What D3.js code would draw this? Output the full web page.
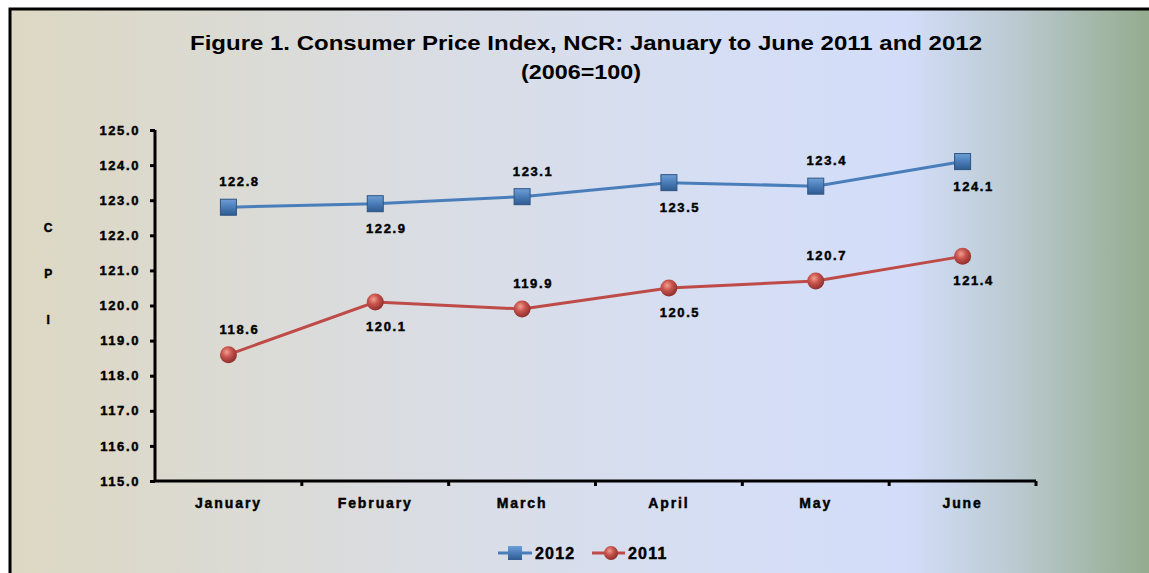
<!DOCTYPE html>
<html>
<head>
<meta charset="utf-8">
<script src="https://cdn.jsdelivr.net/npm/d3@7"></script>
<style>
  body { margin: 0; background: #fff; }
  svg { display: block; }
  .tick text, .lbl { font-family: "Liberation Sans", Arial, sans-serif; font-weight: bold; letter-spacing: 1.6px; stroke: #000; stroke-width: 0.45px; }
</style>
</head>
<body>
<svg id="chart" width="1149" height="573"></svg>
<script>
// data
var months = ["January", "February", "March", "April", "May", "June"];
var cpi2012 = [122.8, 122.9, 123.1, 123.5, 123.4, 124.1];
var cpi2011 = [118.6, 120.1, 119.9, 120.5, 120.7, 121.4];
var yTicks = [115, 116, 117, 118, 119, 120, 121, 122, 123, 124, 125];

var svg = d3.select('#chart');
var W = 1149, H = 573;
var m = {left: 155, right: 1036, top: 130, bottom: 481};

var defs = svg.append('defs');
// background gradient
var bg = defs.append('linearGradient').attr('id', 'bg');
[[0, '#ddd8c3'], [0.4, '#d9dde6'], [0.62, '#d5def4'], [0.78, '#d3ddf9'], [0.87, '#bccbd3'], [1, '#92a98a']]
  .forEach(function(s){ bg.append('stop').attr('offset', s[0]).attr('stop-color', s[1]); });
// marker gradients
var sq = defs.append('linearGradient').attr('id', 'sq').attr('x1', 0).attr('y1', 0).attr('x2', 0).attr('y2', 1);
sq.append('stop').attr('offset', 0).attr('stop-color', '#6f9fd6');
sq.append('stop').attr('offset', 0.5).attr('stop-color', '#4a7cb8');
sq.append('stop').attr('offset', 1).attr('stop-color', '#2f5b8f');
var ball = defs.append('radialGradient').attr('id', 'ball').attr('cx', 0.4).attr('cy', 0.35).attr('r', 0.65);
ball.append('stop').attr('offset', 0).attr('stop-color', '#f0a090');
ball.append('stop').attr('offset', 0.45).attr('stop-color', '#c9544e');
ball.append('stop').attr('offset', 1).attr('stop-color', '#8e2f2b');

svg.append('rect').attr('x', 10).attr('y', 9).attr('width', W).attr('height', H)
  .attr('fill', 'url(#bg)').attr('stroke', '#000').attr('stroke-width', 3);

// title
svg.append('text').attr('x', 586).attr('y', 50).attr('text-anchor', 'middle')
  .style('font-family', '"Liberation Sans", Arial, sans-serif').style('font-weight', 'bold').style('font-size', '21px')
  .attr('textLength', 792).attr('lengthAdjust', 'spacingAndGlyphs')
  .text('Figure 1. Consumer Price Index, NCR: January to June 2011 and 2012');
svg.append('text').attr('x', 581).attr('y', 79).attr('text-anchor', 'middle')
  .style('font-family', '"Liberation Sans", Arial, sans-serif').style('font-weight', 'bold').style('font-size', '21px')
  .attr('textLength', 120).attr('lengthAdjust', 'spacingAndGlyphs')
  .text('(2006=100)');

// scales
var x = d3.scaleBand().domain(months).range([m.left, m.right]);
var y = d3.scaleLinear().domain([115, 125]).range([m.bottom, m.top]);
function cx(d){ return x(d) + x.bandwidth()/2; }

// y axis
var yAxis = svg.append('g').attr('transform', 'translate(' + m.left + ',0)')
  .call(d3.axisLeft(y).tickValues(yTicks).tickFormat(d3.format('.1f')).tickSize(5).tickPadding(10));
yAxis.select('.domain').attr('stroke', '#000').attr('stroke-width', 3).attr('d', 'M0,' + m.top + 'V' + m.bottom);
yAxis.selectAll('.tick line').attr('stroke', '#000').attr('stroke-width', 3);
yAxis.selectAll('.tick text').attr('fill', '#000').style('font-size', '13px');

// x axis
var xAxis = svg.append('g').attr('transform', 'translate(0,' + m.bottom + ')')
  .call(d3.axisBottom(x).tickSize(0).tickPadding(17));
xAxis.select('.domain').attr('stroke', '#000').attr('stroke-width', 3).attr('d', 'M' + m.left + ',0H' + m.right);
xAxis.selectAll('.tick text').attr('fill', '#000').style('font-size', '14px').style('letter-spacing', '1.9px');
xAxis.selectAll('.sep').data(months).enter().append('line')
  .attr('x1', function(d){ return x(d) + x.bandwidth(); }).attr('x2', function(d){ return x(d) + x.bandwidth(); })
  .attr('y1', 0).attr('y2', 5).attr('stroke', '#000').attr('stroke-width', 3);

// y title
['C', 'P', 'I'].forEach(function(c, i){
  svg.append('text').attr('class', 'lbl').attr('x', 49).attr('y', 232 + i * 46).attr('text-anchor', 'middle')
    .style('font-size', '12px').text(c);
});

var line = d3.line().x(function(d, i){ return cx(months[i]); }).y(function(d){ return y(d); });

function series(vals, color, marker, labelUpFirst) {
  svg.append('path').datum(vals).attr('d', line).attr('fill', 'none')
    .attr('stroke', color).attr('stroke-width', 3);
  var g = svg.append('g');
  if (marker === 'square') {
    g.selectAll('rect').data(vals).enter().append('rect')
      .attr('x', function(d, i){ return cx(months[i]) - 8; }).attr('y', function(d){ return y(d) - 8; })
      .attr('width', 16).attr('height', 16).attr('fill', 'url(#sq)').attr('stroke', '#2c5482').attr('stroke-width', 1);
  } else {
    g.selectAll('circle').data(vals).enter().append('circle')
      .attr('cx', function(d, i){ return cx(months[i]); }).attr('cy', function(d){ return y(d); })
      .attr('r', 8.5).attr('fill', 'url(#ball)');
  }
  svg.append('g').selectAll('text').data(vals).enter().append('text').attr('class', 'lbl')
    .attr('x', function(d, i){ return cx(months[i]) + 11; })
    .attr('y', function(d, i){ return y(d) + ((i % 2 === 0) === labelUpFirst ? -21 : 29); })
    .attr('text-anchor', 'middle').style('font-size', '13px')
    .text(function(d){ return d3.format('.1f')(d); });
}
series(cpi2012, '#4a7ebb', 'square', true);
series(cpi2011, '#be4b48', 'circle', true);

// legend
var lg = svg.append('g').attr('transform', 'translate(0,553)');
lg.append('line').attr('x1', 498).attr('x2', 532).attr('stroke', '#4a7ebb').attr('stroke-width', 3);
lg.append('rect').attr('x', 508).attr('y', -7).attr('width', 14).attr('height', 14).attr('fill', 'url(#sq)');
lg.append('text').attr('class', 'lbl').attr('x', 535).attr('y', 6).style('font-size', '16px').style('letter-spacing', '1.2px').text('2012');
lg.append('line').attr('x1', 592).attr('x2', 625).attr('stroke', '#be4b48').attr('stroke-width', 3);
lg.append('circle').attr('cx', 611).attr('cy', 0).attr('r', 7).attr('fill', 'url(#ball)');
lg.append('text').attr('class', 'lbl').attr('x', 628).attr('y', 6).style('font-size', '16px').style('letter-spacing', '1.2px').text('2011');
</script>
</body>
</html>
